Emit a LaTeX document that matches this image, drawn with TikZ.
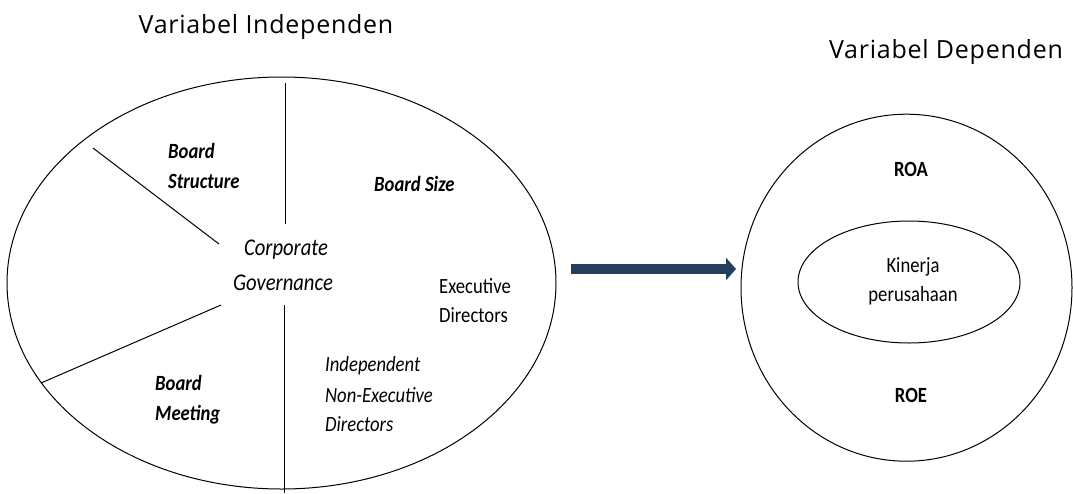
\documentclass[tikz,border=0pt]{standalone}
\usepackage{fontspec}
\setmainfont{Carlito}[FakeStretch=0.86]
\newfontfamily\titlefont{Open Sans}[LetterSpace=3]
\usetikzlibrary{shapes.geometric,arrows.meta}
\definecolor{navy}{HTML}{243F60}
\tikzset{
  ring/.style={draw, line width=1pt, ellipse, inner sep=0pt},
  divider/.style={draw, line width=1pt},
  lbl/.style={font=\fontsize{21.7}{30}\selectfont, inner sep=0pt, anchor=base west},
  bi/.style={lbl, font=\fontsize{21.7}{30}\selectfont\bfseries\itshape},
  it/.style={lbl, font=\fontsize{21.7}{30}\selectfont\itshape},
  cgl/.style={lbl, anchor=base, font=\fontsize{24}{30}\selectfont\itshape},
  ctr/.style={lbl, anchor=base},
  ttl/.style={font=\titlefont\fontsize{25}{28}\selectfont, inner sep=0pt, anchor=base},
  flow/.style={line width=10pt, navy, -{Triangle[length=10pt,width=22pt]}}
}
\begin{document}
\begin{tikzpicture}[x=1pt,y=-1pt]
\useasboundingbox (0,0) rectangle (1073,493);
% titles
\node[ttl] (t1) at (266,33) {Variabel Independen};
\node[ttl] (t2) at (946,58) {Variabel Dependen};
% left ellipse
\node[ring, minimum width=549pt, minimum height=412pt] (cg) at (281.5,283) {};
\coordinate (v1a) at (285,83);  \coordinate (v1b) at (285,224);
\coordinate (v2a) at (284,305); \coordinate (v2b) at (284,493);
\coordinate (d1a) at (93,148);  \coordinate (d1b) at (219,244);
\coordinate (d2a) at (221,305); \coordinate (d2b) at (41,383);
\draw[divider] (v1a) -- (v1b);
\draw[divider] (v2a) -- (v2b);
\draw[divider] (d1a) -- (d1b);
\draw[divider] (d2a) -- (d2b);
% left texts
\node[bi] (bst1) at (168,158) {Board};
\node[bi] (bst2) at (168,188) {Structure};
\node[bi] (bsz) at (374,191) {Board Size};
\node[cgl] (corp1) at (286,255) {Corporate};
\node[cgl] (corp2) at (283,290) {Governance};
\node[lbl] (exd1) at (439,293) {Executive};
\node[lbl] (exd2) at (439,322) {Directors};
\node[it] (ind1) at (325,371) {Independent};
\node[it] (ind2) at (325,402) {Non-Executive};
\node[it] (ind3) at (325,431) {Directors};
\node[bi] (bm1) at (155,390) {Board};
\node[bi] (bm2) at (155,420) {Meeting};
% arrow
\coordinate (as) at (571,269);
\coordinate (ae) at (736,269);
\draw[flow] (as) -- (ae);
% right circle
\node[ring, minimum width=331pt, minimum height=347pt] (kp) at (906.5,287.7) {};
\node[ring, minimum width=222pt, minimum height=122pt] (inner) at (909,282) {};
\node[ctr, font=\fontsize{21.7}{30}\selectfont\bfseries] (roa) at (911,176) {ROA};
\node[ctr, font=\fontsize{21.7}{30}\selectfont\bfseries] (roe) at (911,402) {ROE};
\node[ctr] (kin1) at (913,272) {Kinerja};
\node[ctr] (kin2) at (913,301) {perusahaan};
\end{tikzpicture}
\end{document}
